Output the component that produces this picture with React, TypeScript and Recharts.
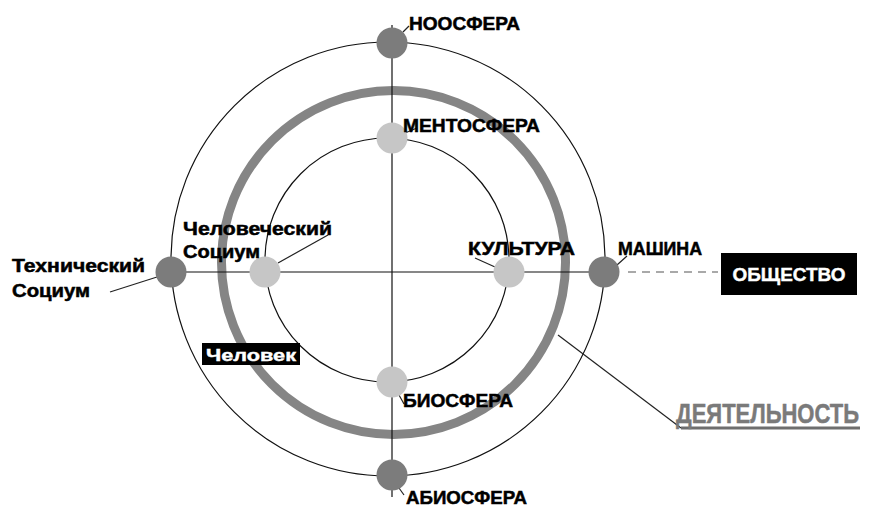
import React from 'react';
import { ScatterChart, Scatter, XAxis, YAxis } from 'recharts';

// diagram space: origin where the two axes cross, 1 unit = 1 px
const rings = [
  { name: 'внешний круг', x: -4, y: 13, r: 217, kind: 'thin' },
  { name: 'внутренний круг', x: -5, y: 12, r: 122, kind: 'thin' },
  { name: 'ДЕЯТЕЛЬНОСТЬ', x: 1.5, y: 9.5, r: 172, kind: 'thick' },
];

const spheres = [
  { name: 'НООСФЕРА', x: 0, y: 229, level: 'outer' },
  { name: 'МЕНТОСФЕРА', x: 0, y: 134, level: 'inner' },
  { name: 'БИОСФЕРА', x: 0, y: -110, level: 'inner' },
  { name: 'АБИОСФЕРА', x: 0, y: -203, level: 'outer' },
  { name: 'Технический Социум', x: -221, y: 0, level: 'outer' },
  { name: 'Человеческий Социум', x: -127, y: 0, level: 'inner' },
  { name: 'КУЛЬТУРА', x: 117, y: 0, level: 'inner' },
  { name: 'МАШИНА', x: 212, y: 0, level: 'outer' },
];

const verticalAxis = [{ x: 0, y: 247 }, { x: 0, y: -225 }];
const horizontalAxis = [{ x: -221, y: 0 }, { x: 212, y: 0 }];
const societyLink = [{ x: 236, y: 0 }, { x: 326, y: 0 }];

const boxes = [
  { name: 'ОБЩЕСТВО', x: 397, y: -2 },
  { name: 'Человек', x: -141, y: -82 },
];

const callouts = [{ name: 'ДЕЯТЕЛЬНОСТЬ', x: 284, y: -151 }];

// label placement relative to each dot: [dx, dy, line widths], leader [x1,y1,x2,y2]
const labelLayout: Record<string, { dx: number; dy: number; widths: number[]; gap?: number; leader: number[] }> = {
  'НООСФЕРА': { dx: 17, dy: -13, widths: [111], leader: [11, -11, 17, -17] },
  'МЕНТОСФЕРА': { dx: 11, dy: -6, widths: [137], leader: [13, -5, 25, -10] },
  'БИОСФЕРА': { dx: 11, dy: 25, widths: [110], leader: [7, 13, 12, 22] },
  'АБИОСФЕРА': { dx: 14, dy: 29, widths: [121], leader: [7, 13, 12, 20] },
  'Технический Социум': { dx: -159, dy: 0, widths: [133, 78], gap: 25, leader: [-14, 5, -61, 20] },
  'Человеческий Социум': { dx: -82, dy: -37, widths: [149, 77], gap: 23, leader: [13, -9, 63, -37] },
  'КУЛЬТУРА': { dx: -41, dy: -17, widths: [107], leader: [-14, -5, -34, -14] },
  'МАШИНА': { dx: 14, dy: -17, widths: [84], leader: [13, -7, 23, -16] },
};

const FONT = "Arial, 'Liberation Sans', sans-serif";

const RingShape = (props: any) => {
  const { cx, cy, payload } = props;
  const thick = payload.kind === 'thick';
  return (
    <circle cx={cx} cy={cy} r={payload.r} fill="none"
      stroke={thick ? '#858585' : '#111'} strokeWidth={thick ? 9 : 1.2} />
  );
};

const SphereShape = (props: any) => {
  const { cx, cy, payload } = props;
  const l = labelLayout[payload.name];
  return (
    <g>
      <line x1={cx + l.leader[0]} y1={cy + l.leader[1]} x2={cx + l.leader[2]} y2={cy + l.leader[3]}
        stroke="#222" strokeWidth={1.2} />
      <circle cx={cx} cy={cy} r={15.5} fill={payload.level === 'outer' ? '#7c7c7c' : '#c6c6c6'} />
    </g>
  );
};

const SphereLabel = (props: any) => {
  const { cx, cy, payload } = props;
  const l = labelLayout[payload.name];
  const lines = l.widths.length > 1 ? payload.name.split(' ') : [payload.name];
  return (
    <g>
      {lines.map((t: string, i: number) => (
        <text key={t} x={cx + l.dx} y={cy + l.dy + i * (l.gap || 0)} fontFamily={FONT} fontWeight="bold"
          fontSize={18} fill="#000" stroke="#000" strokeWidth={0.5}
          textLength={l.widths[i]} lengthAdjust="spacingAndGlyphs">
          {t}
        </text>
      ))}
    </g>
  );
};

const BoxShape = (props: any) => {
  const { cx, cy, payload } = props;
  const big = payload.name === 'ОБЩЕСТВО';
  const w = big ? 136 : 98;
  const h = big ? 42 : 22;
  return (
    <g>
      <rect x={cx - w / 2} y={cy - h / 2} width={w} height={h} fill="#000" />
      <text x={cx} y={cy + 7} textAnchor="middle" fontFamily={FONT} fontWeight="bold"
        fontSize={big ? 18 : 16} fill="#fff" stroke="#fff" strokeWidth={0.4}
        textLength={big ? 113 : 90} lengthAdjust="spacingAndGlyphs">
        {payload.name}
      </text>
    </g>
  );
};

const CalloutShape = (props: any) => {
  const { cx, cy, payload } = props;
  return (
    <g>
      <line x1={cx - 118} y1={cy - 88} x2={cx + 5} y2={cy + 5} stroke="#222" strokeWidth={1.2} />
      <line x1={cx + 5} y1={cy + 5} x2={cx + 184} y2={cy + 5} stroke="#6e6e6e" strokeWidth={3} />
      <text transform={`translate(${cx},${cy}) scale(1,1.25)`} x={0} y={0} fontFamily={FONT}
        fontWeight="bold" fontSize={22} fill="#7a7a7a" stroke="#7a7a7a" strokeWidth={0.4}>
        {payload.name}
      </text>
    </g>
  );
};

const noDot = () => null;

export default function App() {
  return (
    <div style={{ position: 'absolute', left: 0, top: 0, width: 869, height: 509, background: '#fff' }}>
      <ScatterChart width={869} height={509} margin={{ top: 0, right: 0, bottom: 0, left: 0 }}>
        <XAxis type="number" dataKey="x" domain={[-392, 477]} allowDataOverflow hide />
        <YAxis type="number" dataKey="y" domain={[-237, 272]} allowDataOverflow hide />
        <Scatter data={rings} shape={RingShape} isAnimationActive={false} />
        <Scatter data={verticalAxis} line={{ stroke: '#111', strokeWidth: 1.2 }} shape={noDot} isAnimationActive={false} />
        <Scatter data={horizontalAxis} line={{ stroke: '#111', strokeWidth: 1.2 }} shape={noDot} isAnimationActive={false} />
        <Scatter data={societyLink} line={{ stroke: '#555', strokeWidth: 1.2, strokeDasharray: '8 6' }} shape={noDot} isAnimationActive={false} />
        <Scatter data={callouts} shape={CalloutShape} isAnimationActive={false} />
        <Scatter data={spheres} shape={SphereShape} isAnimationActive={false} />
        <Scatter data={spheres} shape={SphereLabel} isAnimationActive={false} />
        <Scatter data={boxes} shape={BoxShape} isAnimationActive={false} />
      </ScatterChart>
    </div>
  );
}
